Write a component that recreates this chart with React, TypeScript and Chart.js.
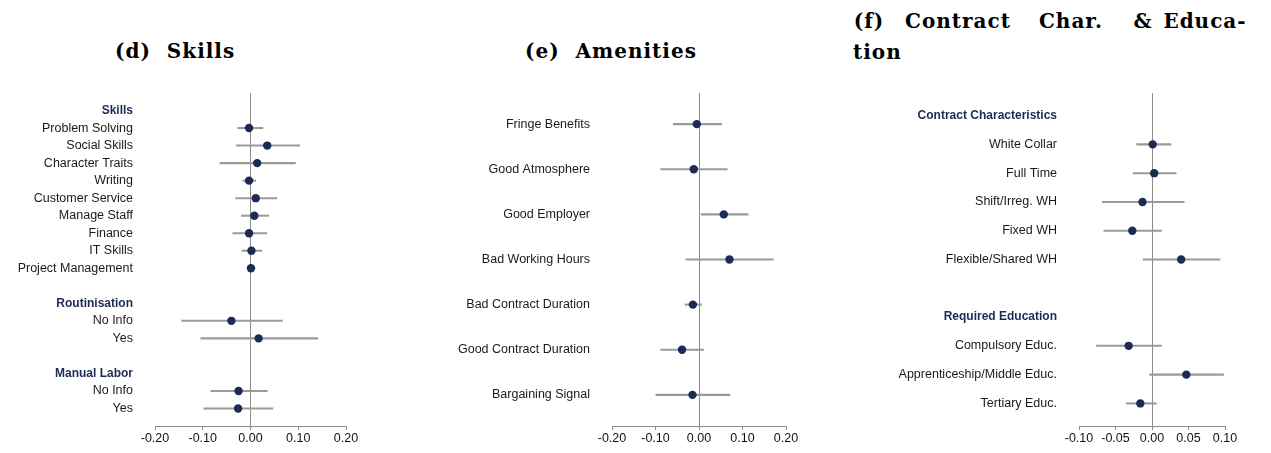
import React, { useEffect, useRef } from "react";
import { Chart, registerables } from "chart.js";

Chart.register(...registerables);

// ---------- Data ----------
const skillsLabels = [
  "Skills", "Problem Solving", "Social Skills", "Character Traits", "Writing",
  "Customer Service", "Manage Staff", "Finance", "IT Skills", "Project Management",
  "", "Routinisation", "No Info", "Yes", "", "Manual Labor", "No Info", "Yes",
];
const skillsHeaders = ["Skills", "Routinisation", "Manual Labor"];
const skillsEst = [null, -0.003, 0.035, 0.014, -0.003, 0.011, 0.008, -0.003, 0.002, 0.001, null, null, -0.040, 0.017, null, null, -0.025, -0.026];
const skillsLo = [null, -0.027, -0.030, -0.064, -0.016, -0.031, -0.019, -0.037, -0.018, -0.005, null, null, -0.144, -0.104, null, null, -0.083, -0.098];
const skillsHi = [null, 0.026, 0.103, 0.094, 0.011, 0.055, 0.038, 0.034, 0.024, 0.009, null, null, 0.067, 0.141, null, null, 0.035, 0.047];

const amenLabels = [
  "Fringe Benefits", "Good Atmosphere", "Good Employer", "Bad Working Hours",
  "Bad Contract Duration", "Good Contract Duration", "Bargaining Signal",
];
const amenHeaders: string[] = [];
const amenEst = [-0.005, -0.012, 0.057, 0.070, -0.014, -0.039, -0.015];
const amenLo = [-0.059, -0.088, 0.005, -0.030, -0.032, -0.088, -0.099];
const amenHi = [0.052, 0.065, 0.113, 0.171, 0.006, 0.011, 0.071];

const contractLabels = [
  "Contract Characteristics", "White Collar", "Full Time", "Shift/Irreg. WH", "Fixed WH",
  "Flexible/Shared WH", "", "Required Education", "Compulsory Educ.",
  "Apprenticeship/Middle Educ.", "Tertiary Educ.",
];
const contractHeaders = ["Contract Characteristics", "Required Education"];
const contractEst = [null, 0.001, 0.003, -0.013, -0.027, 0.040, null, null, -0.032, 0.047, -0.016];
const contractLo = [null, -0.021, -0.026, -0.068, -0.066, -0.012, null, null, -0.076, -0.003, -0.035];
const contractHi = [null, 0.026, 0.033, 0.044, 0.013, 0.093, null, null, 0.013, 0.098, 0.006];

const titleD = "(d)  Skills";
const titleE = "(e)  Amenities";
const titleFWords = ["(f)", "Contract", "Char.", "&", "Educa-"];
const titleFLine2 = "tion";

// ---------- Styles ----------
const NAVY = "#1d2a56";
const GREY = "#9a9a9a";
const AXIS = "#8c8c8c";
const SANS = "'Liberation Sans', Arial, sans-serif";
const titleFWordCenter = [869, 958, 1071, 1143, 1205];

type PanelProps = {
  labels: string[];
  headers: string[];
  est: (number | null)[];
  lo: (number | null)[];
  hi: (number | null)[];
  xMin: number;
  xMax: number;
  step: number;
  pad: number;
  left: number;
  width: number;
  yAxisWidth: number;
  padRight: number;
};

const TOP = 80;
const HEIGHT = 373;

function Panel(p: PanelProps) {
  const ref = useRef<HTMLCanvasElement | null>(null);
  useEffect(() => {
    if (!ref.current) return;
    const points = p.labels
      .map((_, i) => (p.est[i] == null ? null : { x: p.est[i] as number, y: i }))
      .filter((d) => d !== null);
    const bars = p.labels
      .map((_, i) =>
        p.lo[i] == null || p.hi[i] == null ? null : { x: [p.lo[i], p.hi[i]], y: i }
      )
      .filter((d) => d !== null);
    const n = p.labels.length;
    const chart = new Chart(ref.current, {
      type: "bar",
      data: {
        datasets: [
          {
            type: "scatter",
            data: points as any,
            backgroundColor: NAVY,
            borderColor: NAVY,
            pointRadius: 4.2,
            pointBorderWidth: 0,
            order: 0,
          } as any,
          {
            type: "bar",
            data: bars as any,
            backgroundColor: GREY,
            borderWidth: 0,
            barThickness: 1.4,
            order: 1,
          } as any,
        ],
      },
      options: {
        animation: false,
        responsive: false,
        indexAxis: "y",
        events: [],
        layout: { padding: { top: 13, right: p.padRight, left: 0, bottom: 0 } },
        plugins: { legend: { display: false }, tooltip: { enabled: false } },
        scales: {
          x: {
            type: "linear",
            min: p.xMin,
            max: p.xMax,
            offset: false,
            afterFit: (s: any) => {
              s.height = 27;
            },
            ticks: {
              stepSize: p.step,
              padding: 1,
              color: "#111",
              font: { family: SANS, size: 12.5 },
              callback: (v: any) => (Math.abs(Number(v)) < 1e-9 ? "0.00" : Number(v).toFixed(2)),
            },
            grid: {
              offset: false,
              drawOnChartArea: true,
              color: (ctx: any) =>
                ctx.tick && Math.abs(ctx.tick.value) < 1e-9 ? AXIS : "rgba(0,0,0,0)",
              tickColor: AXIS,
              tickLength: 4,
              lineWidth: 1,
            },
            border: { display: true, color: AXIS, width: 1 },
          },
          y: {
            type: "linear",
            reverse: true,
            offset: false,
            min: -p.pad,
            max: n - 1 + p.pad,
            afterBuildTicks: (axis: any) => {
              axis.ticks = p.labels.map((_, i) => ({ value: i }));
            },
            afterFit: (s: any) => {
              s.width = p.yAxisWidth;
              s.paddingTop = 0;
              s.paddingBottom = 0;
            },
            ticks: {
              autoSkip: false,
              padding: 22,
              callback: (v: any) => p.labels[Math.round(Number(v))] ?? "",
              color: (ctx: any) =>
                p.headers.includes(p.labels[ctx.tick?.value]) ? NAVY : "#1a1a1a",
              font: (ctx: any) =>
                p.headers.includes(p.labels[ctx.tick?.value])
                  ? { family: SANS, size: 12, weight: "bold" }
                  : { family: SANS, size: 12.5 },
            },
            grid: { display: false, drawTicks: false, offset: false },
            border: { display: false },
          },
        },
      } as any,
    });
    return () => chart.destroy();
  }, []);
  return (
    <canvas
      ref={ref}
      width={p.width}
      height={HEIGHT}
      style={{ position: "absolute", left: p.left, top: TOP, width: p.width, height: HEIGHT }}
    />
  );
}

const titleStyle: React.CSSProperties = {
  position: "absolute",
  fontFamily: "'DejaVu Serif', serif",
  fontWeight: "bold",
  fontSize: 20,
  lineHeight: "20px",
  letterSpacing: "1px",
  color: "#000",
  whiteSpace: "pre",
  margin: 0,
};

export default function App() {
  return (
    <div
      style={{
        position: "absolute",
        left: 0,
        top: 0,
        width: 1271,
        height: 453,
        background: "#fff",
        overflow: "hidden",
      }}
    >
      <div style={{ ...titleStyle, left: 115, top: 41 }}>{titleD}</div>
      <div style={{ ...titleStyle, left: 525, top: 41 }}>{titleE}</div>
      {titleFWords.map((w, i) => (
        <div
          key={i}
          style={{
            ...titleStyle,
            left: titleFWordCenter[i],
            top: 10.5,
            transform: "translateX(-50%)",
          }}
        >
          {w}
        </div>
      ))}
      <div style={{ ...titleStyle, left: 853, top: 42 }}>{titleFLine2}</div>
      <Panel
        labels={skillsLabels}
        headers={skillsHeaders}
        est={skillsEst}
        lo={skillsLo}
        hi={skillsHi}
        xMin={-0.2}
        xMax={0.2}
        step={0.1}
        pad={1}
        left={0}
        width={380}
        yAxisWidth={155}
        padRight={34}
      />
      <Panel
        labels={amenLabels}
        headers={amenHeaders}
        est={amenEst}
        lo={amenLo}
        hi={amenHi}
        xMin={-0.2}
        xMax={0.2}
        step={0.1}
        pad={0.69}
        left={420}
        width={400}
        yAxisWidth={192}
        padRight={34}
      />
      <Panel
        labels={contractLabels}
        headers={contractHeaders}
        est={contractEst}
        lo={contractLo}
        hi={contractHi}
        xMin={-0.1}
        xMax={0.1}
        step={0.05}
        pad={0.785}
        left={830}
        width={441}
        yAxisWidth={249}
        padRight={46}
      />
    </div>
  );
}
